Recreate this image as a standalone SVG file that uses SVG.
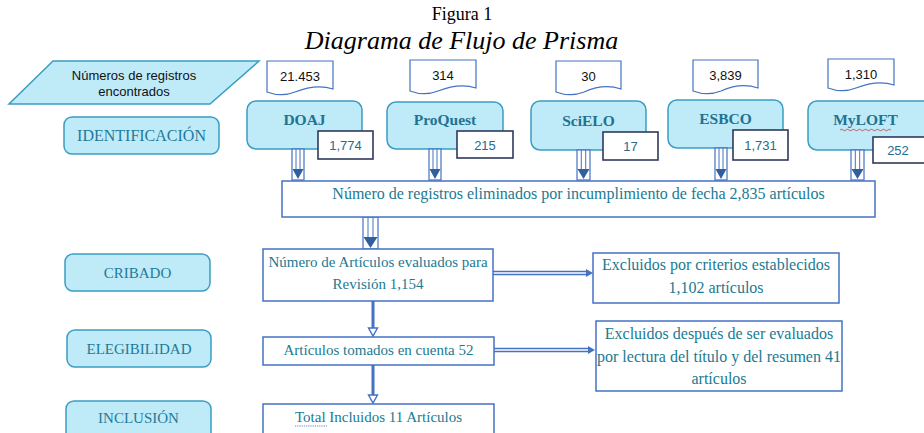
<svg xmlns="http://www.w3.org/2000/svg" width="924" height="433" viewBox="0 0 924 433">
<defs>
<style>
.stage{fill:#bfeaf8;stroke:#3a9dc2;stroke-width:1.5}
.stagetxt{font-family:"Liberation Serif","Times New Roman",serif;font-size:15px;fill:#1f7a99;text-anchor:middle}
.db{fill:#bfeaf8;stroke:#3a9dc2;stroke-width:1.5}
.dbtxt{font-family:"Liberation Serif","Times New Roman",serif;font-size:15.5px;font-weight:bold;fill:#1f7391;text-anchor:middle}
.num{fill:#ffffff;stroke:#2d3a5c;stroke-width:1.6}
.numtxt{font-family:"Liberation Sans",Arial,sans-serif;font-size:13px;fill:#2a6a8a;text-anchor:middle}
.doc{fill:#ffffff;stroke:#4472c4;stroke-width:1.2}
.doctxt{font-family:"Liberation Sans",Arial,sans-serif;font-size:13px;fill:#111111;text-anchor:middle}
.flow{fill:#ffffff;stroke:#4472c4;stroke-width:1.5}
.flowtxt{font-family:"Liberation Serif","Times New Roman",serif;font-size:15px;fill:#1a7a93;text-anchor:middle}
.big{font-size:16px}
.sh{fill:#ffffff;stroke:#4472c4;stroke-width:1.2}
.shl{stroke:#4472c4;stroke-width:1;fill:none}
.head{fill:#2f5f9f}
.ln{stroke:#4472c4;fill:none}
</style>
</defs>

<g id="title">
<text x="462" y="20" font-family="'Liberation Serif','Times New Roman',serif" font-size="18" text-anchor="middle" fill="#000">Figura 1</text>
<text x="461.5" y="48.5" font-family="'Liberation Serif','Times New Roman',serif" font-size="26" font-style="italic" text-anchor="middle" fill="#000">Diagrama de Flujo de Prisma</text>
</g>

<g id="registros">
<polygon points="53,61 259,61 210,104 9,104" fill="#bfeaf8" stroke="#3a9dc2" stroke-width="1.5"/>
<text x="134" y="79.5" class="doctxt">Números de registros</text>
<text x="134" y="95.5" class="doctxt">encontrados</text>
</g>

<g id="identificacion">
<rect x="64" y="117" width="155" height="37" rx="8" class="stage"/>
<text x="141.5" y="141" class="stagetxt big">IDENTIFICACIÓN</text>
</g>
<g id="cribado">
<rect x="65" y="254" width="145" height="37" rx="8" class="stage"/>
<text x="137.5" y="277.5" class="stagetxt">CRIBADO</text>
</g>
<g id="elegibilidad">
<rect x="67" y="330" width="144" height="37" rx="8" class="stage"/>
<text x="139" y="353.5" class="stagetxt">ELEGIBILIDAD</text>
</g>
<g id="inclusion">
<rect x="66" y="401" width="145" height="44" rx="8" class="stage"/>
<text x="138.5" y="423" class="stagetxt">INCLUSIÓN</text>
</g>

<g id="doc-doaj">
<path d="M267,61 H333 V89 C318,84 305,88 295,92 C285,96 275,95 267,92 Z" class="doc"/>
<text x="300" y="81" class="doctxt">21.453</text>
</g>
<g id="doc-proquest">
<path d="M410,60 H476 V88 C461,83 448,87 438,91 C428,95 418,94 410,91 Z" class="doc"/>
<text x="443" y="80" class="doctxt">314</text>
</g>
<g id="doc-scielo">
<path d="M556,61 H621 V89 C606,84 593,88 584,92 C574,96 564,95 556,92 Z" class="doc"/>
<text x="588.5" y="81" class="doctxt">30</text>
</g>
<g id="doc-esbco">
<path d="M693,60 H758 V88 C743,83 730,87 721,91 C711,95 701,94 693,91 Z" class="doc"/>
<text x="725.5" y="80" class="doctxt">3,839</text>
</g>
<g id="doc-myloft">
<path d="M828,59 H894 V85 C879,80 866,84 856,88 C846,92 836,91 828,88 Z" class="doc"/>
<text x="861" y="79" class="doctxt">1,310</text>
</g>

<g id="db-doaj">
<rect x="247" y="101" width="115" height="48" rx="9" class="db"/>
<text x="304.5" y="125" class="dbtxt">DOAJ</text>
</g>
<g id="db-proquest">
<rect x="387" y="102" width="116" height="47" rx="9" class="db"/>
<text x="445" y="125" class="dbtxt">ProQuest</text>
</g>
<g id="db-scielo">
<rect x="531" y="101" width="115" height="49" rx="9" class="db"/>
<text x="588.5" y="125.5" class="dbtxt">SciELO</text>
</g>
<g id="db-esbco">
<rect x="668" y="100" width="115" height="48" rx="9" class="db"/>
<text x="725.5" y="124" class="dbtxt">ESBCO</text>
</g>
<g id="db-myloft">
<rect x="808" y="101" width="125" height="49" rx="9" class="db"/>
<text x="865.5" y="125" class="dbtxt">MyLOFT</text>
<path d="M840,130 q1.5,-1.5 3,0 t3,0 t3,0 t3,0 t3,0 t3,0 t3,0 t3,0 t3,0 t3,0 t3,0 t3,0 t3,0 t3,0 t3,0 t3,0 t3,0" fill="none" stroke="#d33" stroke-width="0.8"/>
</g>

<g id="n-doaj">
<rect x="318" y="131" width="55" height="28" class="num"/>
<text x="345.5" y="150" class="numtxt">1,774</text>
</g>
<g id="n-proquest">
<rect x="457" y="131" width="56" height="27" class="num"/>
<text x="485" y="150" class="numtxt">215</text>
</g>
<g id="n-scielo">
<rect x="603" y="132" width="55" height="28" class="num"/>
<text x="630.5" y="151" class="numtxt">17</text>
</g>
<g id="n-esbco">
<rect x="733" y="130" width="55" height="30" class="num"/>
<text x="760.5" y="149.5" class="numtxt">1,731</text>
</g>
<g id="n-myloft">
<rect x="873" y="137" width="56" height="26" class="num"/>
<text x="898" y="155" class="numtxt">252</text>
</g>

<g id="connectors">
<g id="a-doaj">
<rect x="292" y="149" width="12" height="31" class="sh"/>
<line x1="296" y1="149" x2="296" y2="169" class="shl"/><line x1="300" y1="149" x2="300" y2="169" class="shl"/>
<polygon points="292.5,169 303.5,169 298,179" class="head"/>
</g>
<g id="a-proquest">
<rect x="429" y="149" width="12" height="31" class="sh"/>
<line x1="433" y1="149" x2="433" y2="169" class="shl"/><line x1="437" y1="149" x2="437" y2="169" class="shl"/>
<polygon points="429.5,169 440.5,169 435,179" class="head"/>
</g>
<g id="a-scielo">
<rect x="577" y="150" width="13" height="30" class="sh"/>
<line x1="581.3" y1="150" x2="581.3" y2="169" class="shl"/><line x1="585.7" y1="150" x2="585.7" y2="169" class="shl"/>
<polygon points="577.5,169 589.5,169 583.5,179" class="head"/>
</g>
<g id="a-esbco">
<rect x="715" y="148" width="12" height="32" class="sh"/>
<line x1="719" y1="148" x2="719" y2="169" class="shl"/><line x1="723" y1="148" x2="723" y2="169" class="shl"/>
<polygon points="715.5,169 726.5,169 721,179" class="head"/>
</g>
<g id="a-myloft">
<rect x="851" y="150" width="13" height="30" class="sh"/>
<line x1="855.3" y1="150" x2="855.3" y2="169" class="shl"/><line x1="859.7" y1="150" x2="859.7" y2="169" class="shl"/>
<polygon points="851.5,169 863.5,169 857.5,179" class="head"/>
</g>
<g id="a-main">
<rect x="363" y="217" width="15" height="32" class="sh"/>
<line x1="368" y1="217" x2="368" y2="237" class="shl"/><line x1="373" y1="217" x2="373" y2="237" class="shl"/>
<polygon points="363.5,237 377.5,237 370.5,248" class="head"/>
</g>
<g id="a-1154">
<line x1="373" y1="301" x2="373" y2="328" class="ln" stroke-width="3"/>
<polygon points="368.5,328 377.5,328 373,336" fill="#fff" stroke="#4472c4" stroke-width="1.4"/>
</g>
<g id="a-52">
<line x1="373" y1="365" x2="373" y2="395" class="ln" stroke-width="3"/>
<polygon points="368.5,395 377.5,395 373,403" fill="#fff" stroke="#4472c4" stroke-width="1.4"/>
</g>
<g id="a-excl1">
<line x1="493" y1="271.5" x2="588" y2="271.5" class="ln" stroke-width="1.3"/>
<line x1="493" y1="274.5" x2="588" y2="274.5" class="ln" stroke-width="1.3"/>
<polygon points="586,269 593,273 586,277" fill="#4472c4"/>
</g>
<g id="a-excl2">
<line x1="494" y1="348.5" x2="590" y2="348.5" class="ln" stroke-width="1.3"/>
<line x1="494" y1="351.5" x2="590" y2="351.5" class="ln" stroke-width="1.3"/>
<polygon points="588,346 595,350 588,354" fill="#4472c4"/>
</g>
</g>

<g id="eliminados">
<rect x="282" y="181" width="593" height="36" class="flow"/>
<text x="578.5" y="198.5" class="flowtxt big">Número de registros eliminados por incumplimiento de fecha 2,835 artículos</text>
</g>
<g id="evaluados">
<rect x="263" y="249" width="230" height="52" class="flow"/>
<text x="378" y="266.5" class="flowtxt">Número de Artículos evaluados para</text>
<text x="378" y="289" class="flowtxt">Revisión 1,154</text>
</g>
<g id="tomados">
<rect x="263" y="337" width="231" height="28" class="flow"/>
<text x="378.5" y="355" class="flowtxt">Artículos tomados en cuenta 52</text>
</g>
<g id="total">
<rect x="263" y="404" width="231" height="40" class="flow"/>
<text x="378.5" y="422" class="flowtxt">Total Incluidos 11 Artículos</text>
<path d="M295,426 h32" stroke="#5a6fd0" stroke-width="0.9" stroke-dasharray="1.2,1" fill="none"/>
</g>
<g id="excluidos1">
<rect x="593" y="253" width="246" height="50" class="flow"/>
<text x="716" y="269.5" class="flowtxt big">Excluidos por criterios establecidos</text>
<text x="716" y="292.5" class="flowtxt big">1,102 artículos</text>
</g>
<g id="excluidos2">
<rect x="596" y="321" width="246" height="70" class="flow"/>
<text x="719" y="338.5" class="flowtxt big">Excluidos después de ser evaluados</text>
<text x="719" y="361.5" class="flowtxt big">por lectura del título y del resumen 41</text>
<text x="719" y="383.5" class="flowtxt big">artículos</text>
</g>
</svg>
